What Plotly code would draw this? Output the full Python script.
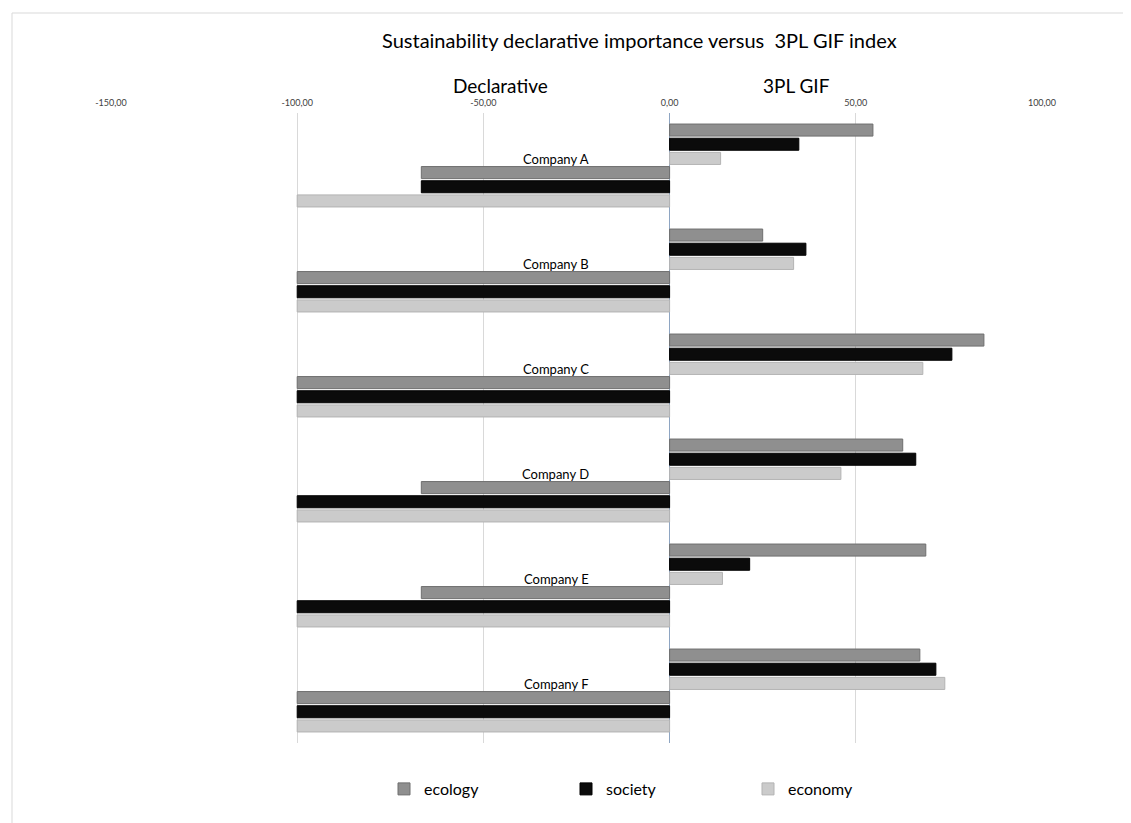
import plotly.graph_objects as go

companies = ["Company A", "Company B", "Company C", "Company D", "Company E", "Company F"]
series = ["ecology", "society", "economy"]

gif_ecology = [54.6, 25.0, 84.4, 62.6, 68.8, 67.2]
gif_society = [34.7, 36.6, 75.8, 66.1, 21.5, 71.5]
gif_economy = [13.7, 33.3, 68.0, 46.0, 14.2, 73.9]

decl_ecology = [-66.67, -100, -100, -66.67, -66.67, -100]
decl_society = [-66.67, -100, -100, -100, -100, -100]
decl_economy = [-100, -100, -100, -100, -100, -100]

tick_vals = [-150, -100, -50, 0, 50, 100]
tick_text = ["-150,00", "-100,00", "-50,00", "0,00", "50,00", "100,00"]

fills = {"ecology": "#8f8f8f", "society": "#0b0b0b", "economy": "#cbcbcb"}
edges = {"ecology": "#6f6f6f", "society": "#000000", "economy": "#b3b3b3"}

FONT = "Lato"
fig = go.Figure()

gif = {"ecology": gif_ecology, "society": gif_society, "economy": gif_economy}
decl = {"ecology": decl_ecology, "society": decl_society, "economy": decl_economy}

for s in series:
    fig.add_trace(go.Bar(
        y=companies, x=gif[s], orientation="h", name=s,
        marker=dict(color=fills[s], line=dict(color=edges[s], width=1)),
        legendgroup=s, showlegend=True,
    ))
for s in series:
    fig.add_trace(go.Bar(
        y=companies, x=decl[s], orientation="h", name=s,
        marker=dict(color=fills[s], line=dict(color=edges[s], width=1)),
        legendgroup=s, showlegend=False,
    ))

OFF = 8  # page offset of the figure in the screenshot
W, H = 1131, 823
L = 111 - OFF
T = 113 - OFF
R = W - (1042 - OFF)
B = H - (743 - OFF)
pw, ph = W - L - R, H - T - B

def px_x(p):
    return (p - OFF - L) / pw

def px_y(p):
    return (H - B - (p - OFF)) / ph

annotations = [
    dict(text="Sustainability declarative importance versus  3PL GIF index",
         xref="paper", yref="paper", x=px_x(639), y=px_y(40), showarrow=False,
         font=dict(family=FONT, size=20, color="#000000"), xanchor="center", yanchor="middle"),
    dict(text="Declarative", xref="x", yref="paper", x=-45.5, y=px_y(86), showarrow=False,
         font=dict(family=FONT, size=19, color="#000000"), xanchor="center", yanchor="middle"),
    dict(text="3PL GIF", xref="x", yref="paper", x=34, y=px_y(86), showarrow=False,
         font=dict(family=FONT, size=19, color="#000000"), xanchor="center", yanchor="middle"),
]
for c in companies:
    annotations.append(dict(text=c, xref="x", yref="y", x=-21, y=c, yshift=7,
                            showarrow=False, xanchor="right", yanchor="middle",
                            font=dict(family=FONT, size=13, color="#000000")))

fig.update_layout(
    width=W, height=H,
    margin=dict(l=L, r=R, t=T, b=B),
    paper_bgcolor="white", plot_bgcolor="white",
    barmode="group", bargap=0.19, bargroupgap=0.15,
    font=dict(family=FONT, color="#000000"),
    xaxis=dict(range=[-150, 100], side="top", tickvals=tick_vals, ticktext=tick_text,
               tickfont=dict(family=FONT, size=9, color="#404040"),
               ticklabelstandoff=4,
               showgrid=True, gridcolor="#d9d9d9", gridwidth=1,
               zeroline=True, zerolinecolor="#8ea5c2", zerolinewidth=1,
               showline=False, ticks="", fixedrange=True),
    yaxis=dict(autorange="reversed", showticklabels=False, showgrid=False,
               zeroline=False, showline=False, ticks=""),
    legend=dict(orientation="h", x=px_x(657), xanchor="center", y=px_y(789), yanchor="middle",
                font=dict(family=FONT, size=16, color="#000000"),
                entrywidth=137, entrywidthmode="pixels", itemwidth=30,
                traceorder="normal"),
    annotations=annotations,
    shapes=[dict(type="rect", xref="paper", yref="paper",
                 x0=px_x(12), x1=px_x(1150), y0=px_y(850), y1=px_y(13),
                 line=dict(color="#d9d9d9", width=1), fillcolor="rgba(0,0,0,0)", layer="below")],
    showlegend=True,
)

fig.write_html("out.html")
